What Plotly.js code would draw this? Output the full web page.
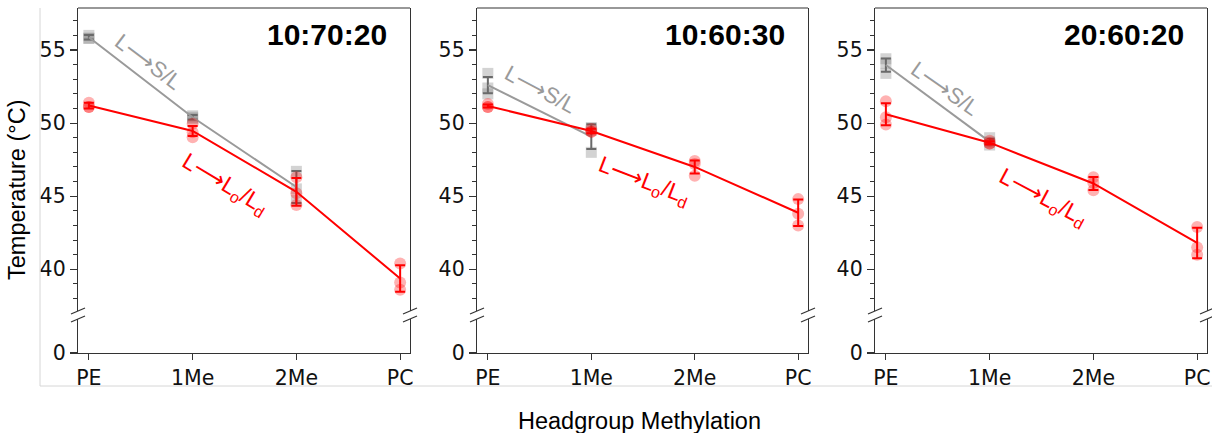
<!DOCTYPE html>
<html><head><meta charset="utf-8">
<script src="https://cdn.plot.ly/plotly-3.0.1.min.js"></script>
<style>html,body{margin:0;padding:0;background:#fff}#chart{width:1212px;height:433px}</style>
</head><body><div id="chart"></div>
<script>
const categories = ['PE', '1Me', '2Me', 'PC'];
const panelTitles = ['10:70:20', '10:60:30', '20:60:20'];
const yTickVals = [40, 45, 50, 55];

// Panel 1: 10:70:20
const solidMean1 = [55.87, 50.4, 45.63, null];
const solidErr1 = [0.15, 0.15, 1.1, 0];
const solidPts1 = [[56.0, 55.8, 55.8], [50.5, 50.3, 50.4], [46.7, 45.5, 44.7], []];
const fluidMean1 = [51.2, 49.46, 45.3, 39.37];
const fluidErr1 = [0.2, 0.35, 0.95, 0.9];
const fluidPts1 = [[51.4, 51.1, 51.1], [49.96, 49.38, 49.04], [46.3, 45.2, 44.4], [40.4, 39.1, 38.6]];

// Panel 2: 10:60:30
const solidMean2 = [52.6, 49.07, null, null];
const solidErr2 = [0.55, 0.85, 0, 0];
const solidPts2 = [[53.4, 52.4, 52.0], [49.7, 49.5, 48.0], [], []];
const fluidMean2 = [51.17, 49.46, 47.0, 43.87];
const fluidErr2 = [0.1, 0.15, 0.45, 0.9];
const fluidPts2 = [[51.3, 51.1, 51.1], [49.6, 49.4, 49.4], [47.4, 47.2, 46.4], [44.8, 43.8, 43.0]];

// Panel 3: 20:60:20
const solidMean3 = [53.97, 48.73, null, null];
const solidErr3 = [0.45, 0.2, 0, 0];
const solidPts3 = [[54.4, 54.1, 53.4], [49.0, 48.7, 48.5], [], []];
const fluidMean3 = [50.6, 48.66, 45.87, 41.8];
const fluidErr3 = [0.75, 0.1, 0.45, 1.05];
const fluidPts3 = [[51.5, 50.4, 49.9], [48.8, 48.6, 48.6], [46.3, 45.9, 45.4], [42.9, 41.5, 41.0]];

const solidLabel = 'L\u27F6S/L';
const fluidLabel = 'L\u27F6L<sub>o</sub>/L<sub>d</sub>';

const panels = [
  {sm: solidMean1, se: solidErr1, sp: solidPts1, fm: fluidMean1, fe: fluidErr1, fp: fluidPts1},
  {sm: solidMean2, se: solidErr2, sp: solidPts2, fm: fluidMean2, fe: fluidErr2, fp: fluidPts2},
  {sm: solidMean3, se: solidErr3, sp: solidPts3, fm: fluidMean3, fe: fluidErr3, fp: fluidPts3}
];

// ---- layout geometry (pixels) ----
const W = 1212, H = 433;
const px = v => v / W, py = v => 1 - v / H;
const panelX = [[78, 410], [477, 808], [875, 1207]];
const upperTop = 8, upperBot = 311, lowerTop = 319, lowerBot = 353;
const upperRange = [55 - (upperBot - 50) / 14.62, 55 + (50 - upperTop) / 14.62];

const GREY_LINE = '#9a9a9a', GREY_ERR = '#6a6a6a', GREY_PT = 'rgba(128,128,128,0.35)';
const RED = '#ff0000', RED_PT = 'rgba(255,0,0,0.3)';
const FRAME = '#333333';
const TICK_FONT = {family: 'DejaVu Sans', size: 20.5, color: '#111'};

const traces = [];
const layout = {
  width: W, height: H,
  margin: {l: 0, r: 0, t: 0, b: 0},
  paper_bgcolor: '#fff', plot_bgcolor: '#fff',
  showlegend: false,
  font: {family: 'DejaVu Sans', size: 20, color: '#000'},
  shapes: [], annotations: []
};

function pointsXY(pts) {
  const xs = [], ys = [];
  pts.forEach((arr, i) => arr.forEach(v => { xs.push(categories[i]); ys.push(v); }));
  return {xs, ys};
}

const solidAnn = [{x: 0.57, y: 54.2, a: 37}, {x: 0.51, y: 52.3, a: 28}, {x: 0.57, y: 52.4, a: 35}];
const fluidAnn = [{x: 1.31, y: 45.8, a: 31}, {x: 1.51, y: 46.0, a: 21}, {x: 1.51, y: 44.9, a: 28}];

panels.forEach((p, k) => {
  const xn = k === 0 ? '' : String(k + 1);
  const yu = 2 * k + 1, yl = 2 * k + 2;
  const xRef = 'x' + xn, yuRef = 'y' + (yu === 1 ? '' : yu), ylRef = 'y' + yl;
  const xKey = 'xaxis' + xn, yuKey = 'yaxis' + (yu === 1 ? '' : yu), ylKey = 'yaxis' + yl;
  const [xa, xb] = panelX[k];

  layout[xKey] = {
    domain: [px(xa), px(xb)], anchor: ylRef, type: 'category',
    categoryorder: 'array', categoryarray: categories,
    range: [-0.105, 3.095], showgrid: false, zeroline: false,
    showline: true, linecolor: FRAME, linewidth: 1.2,
    ticks: 'outside', ticklen: 6, tickwidth: 1.2, tickcolor: FRAME,
    tickfont: TICK_FONT
  };
  layout[yuKey] = {
    domain: [py(upperBot), py(upperTop)], anchor: xRef, range: upperRange,
    tickvals: yTickVals, showgrid: false, zeroline: false,
    showline: true, mirror: true, linecolor: FRAME, linewidth: 1.2,
    ticks: 'outside', ticklen: 7, tickwidth: 1.2, tickcolor: FRAME,
    minor: {dtick: 1, tick0: 0, ticks: 'outside', ticklen: 4, tickwidth: 1, tickcolor: FRAME},
    tickfont: TICK_FONT
  };
  layout[ylKey] = {
    domain: [py(lowerBot), py(lowerTop)], anchor: xRef, range: [0, 1],
    tickvals: [0], showgrid: false, zeroline: false,
    showline: true, mirror: true, linecolor: FRAME, linewidth: 1.2,
    ticks: 'outside', ticklen: 7, tickwidth: 1.2, tickcolor: FRAME,
    tickfont: TICK_FONT
  };

  // empty helper trace so the lower (0) part of the broken axis exists
  traces.push({x: categories, y: [null, null, null, null], xaxis: xRef, yaxis: ylRef, type: 'scatter',
    mode: 'lines', hoverinfo: 'skip', line: {width: 0}});

  // solid (grey) data
  const sp = pointsXY(p.sp);
  traces.push({x: sp.xs, y: sp.ys, xaxis: xRef, yaxis: yuRef, type: 'scatter', mode: 'markers',
    marker: {symbol: 'square', size: 11, color: GREY_PT, line: {width: 0}}, hoverinfo: 'skip', cliponaxis: false});
  traces.push({x: categories, y: p.sm, xaxis: xRef, yaxis: yuRef, type: 'scatter', mode: 'lines',
    line: {color: GREY_LINE, width: 2}, connectgaps: false,
    error_y: {type: 'data', array: p.se, visible: true, color: GREY_ERR, thickness: 2, width: 5}});
  // fluid (red) data
  const fp = pointsXY(p.fp);
  traces.push({x: fp.xs, y: fp.ys, xaxis: xRef, yaxis: yuRef, type: 'scatter', mode: 'markers',
    marker: {symbol: 'circle', size: 12, color: RED_PT, line: {width: 0}}, hoverinfo: 'skip', cliponaxis: false});
  traces.push({x: categories, y: p.fm, xaxis: xRef, yaxis: yuRef, type: 'scatter', mode: 'lines',
    line: {color: RED, width: 2},
    error_y: {type: 'data', array: p.fe, visible: true, color: RED, thickness: 2, width: 5}});

  // top frame line
  layout.shapes.push({type: 'line', xref: 'paper', yref: 'paper', x0: px(xa), x1: px(xb), y0: py(upperTop), y1: py(upperTop),
    line: {color: FRAME, width: 1.2}});
  // break marks left and right
  [xa, xb].forEach(xc => {
    [[314, 308], [322, 316]].forEach(([ya, yb]) => {
      layout.shapes.push({type: 'line', xref: 'paper', yref: 'paper', x0: px(xc - 7), x1: px(xc + 7),
        y0: py(ya), y1: py(yb), line: {color: FRAME, width: 1.2}});
    });
  });

  // panel title
  layout.annotations.push({xref: 'paper', yref: 'paper', x: px(xb - 21), y: py(35), xanchor: 'right', yanchor: 'middle',
    text: '<b>' + panelTitles[k] + '</b>', showarrow: false,
    font: {family: 'Liberation Sans', size: 30, color: '#000'}});
  // series labels
  layout.annotations.push({xref: xRef, yref: yuRef, x: solidAnn[k].x, y: solidAnn[k].y, text: solidLabel,
    textangle: solidAnn[k].a, showarrow: false, xanchor: 'center', yanchor: 'middle',
    font: {family: 'Liberation Sans, DejaVu Sans', size: 22, color: GREY_LINE}});
  layout.annotations.push({xref: xRef, yref: yuRef, x: fluidAnn[k].x, y: fluidAnn[k].y, text: fluidLabel,
    textangle: fluidAnn[k].a, showarrow: false, xanchor: 'center', yanchor: 'middle',
    font: {family: 'Liberation Sans, DejaVu Sans', size: 23, color: RED}});
});

// y-axis title and x-axis title
layout.annotations.push({xref: 'paper', yref: 'paper', x: px(17), y: py(190), text: 'Temperature (\u00B0C)',
  textangle: -90, showarrow: false, xanchor: 'center', yanchor: 'middle',
  font: {family: 'Liberation Sans', size: 23.5, color: '#000'}});
layout.annotations.push({xref: 'paper', yref: 'paper', x: px(640), y: py(421), text: 'Headgroup Methylation',
  showarrow: false, xanchor: 'center', yanchor: 'middle',
  font: {family: 'Liberation Sans', size: 23.5, color: '#000'}});

// light border lines of the figure image
layout.shapes.push({type: 'line', xref: 'paper', yref: 'paper', x0: px(40), x1: px(40), y0: py(8), y1: py(386),
  line: {color: '#d6d6d6', width: 1}});
layout.shapes.push({type: 'line', xref: 'paper', yref: 'paper', x0: px(40), x1: px(1212), y0: py(386), y1: py(386),
  line: {color: '#d6d6d6', width: 1}});

Plotly.newPlot('chart', traces, layout, {staticPlot: true, displayModeBar: false});
</script></body></html>
